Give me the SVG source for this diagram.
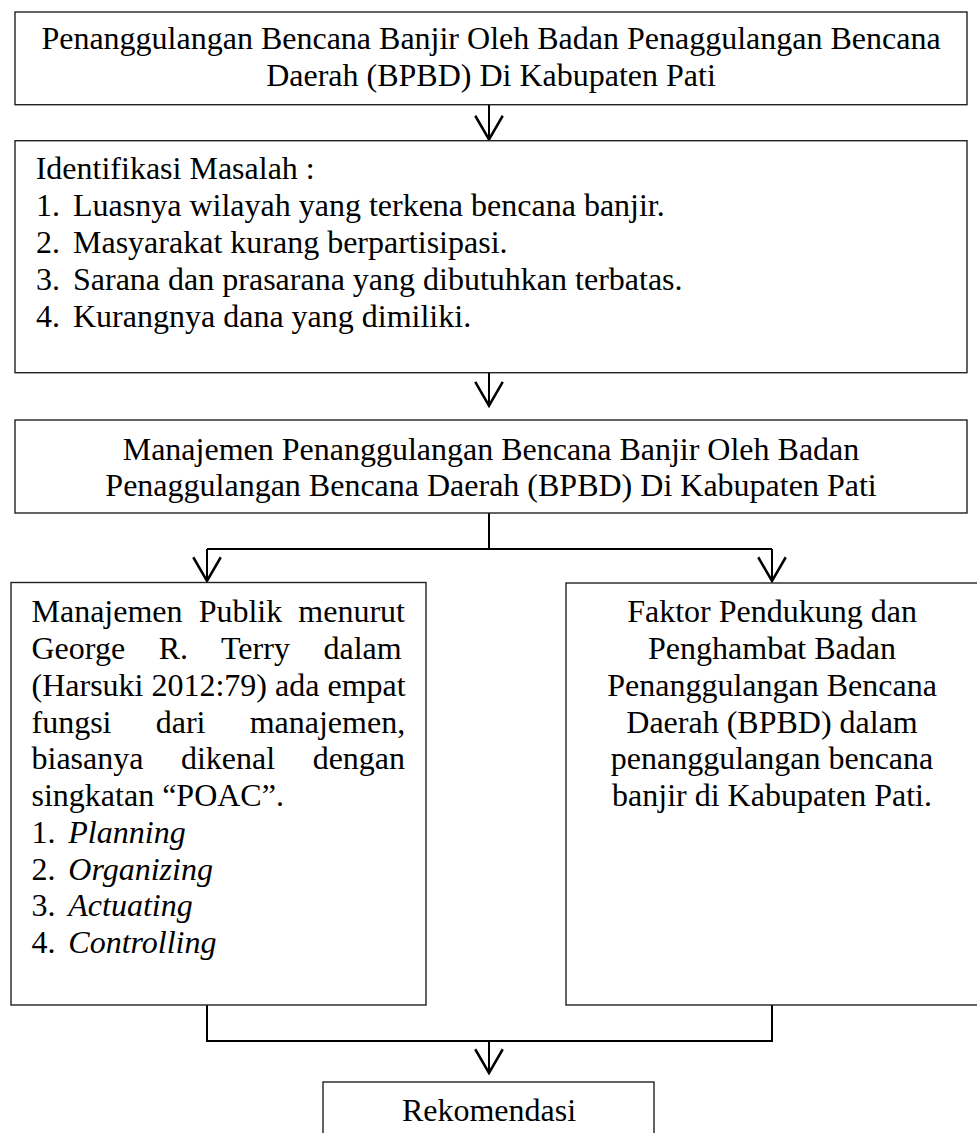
<svg xmlns="http://www.w3.org/2000/svg" width="977" height="1133" viewBox="0 0 977 1133">
<style>
  .box { fill: #fff; stroke: #222; stroke-width: 1.4; }
  .t { font-family: "Liberation Serif", "Times New Roman", serif; font-size: 32px; fill: #000; }
  .c { text-anchor: middle; }
  .i { font-style: italic; }
  .conn { fill: none; stroke: #000; stroke-width: 2; }
</style>
<defs>
  <marker id="arr" markerUnits="userSpaceOnUse" markerWidth="30" markerHeight="30" refX="0" refY="0" orient="auto" overflow="visible" viewBox="-20 -12 22 24">
    <path d="M-19,-11 L0,0 L-19,11" fill="none" stroke="#000" stroke-width="2"/>
  </marker>
</defs>
<rect width="977" height="1133" fill="#fff"/>

<g id="connectors">
  <line class="conn" x1="489" y1="105" x2="489" y2="139.5" marker-end="url(#arr)"/>
  <line class="conn" x1="489" y1="372.7" x2="489" y2="405.7" marker-end="url(#arr)"/>
  <polyline class="conn" points="489,513 489,549"/>
  <polyline class="conn" points="207,549 772,549"/>
  <line class="conn" x1="207" y1="549" x2="207" y2="581" marker-end="url(#arr)"/>
  <line class="conn" x1="772" y1="549" x2="772" y2="581" marker-end="url(#arr)"/>
  <polyline class="conn" points="207,1005 207,1041 772,1041 772,1005"/>
  <line class="conn" x1="489" y1="1041" x2="489" y2="1073" marker-end="url(#arr)"/>
</g>

<g id="node-judul">
  <rect class="box" x="15" y="12" width="952" height="92.7"/>
  <text class="t c" x="491" y="49.3">Penanggulangan Bencana Banjir Oleh Badan Penaggulangan Bencana</text>
  <text class="t c" x="491" y="86">Daerah (BPBD) Di Kabupaten Pati</text>
</g>

<g id="node-masalah">
  <rect class="box" x="15" y="140.7" width="952" height="232"/>
  <text class="t" x="35.7" y="179.3">Identifikasi Masalah :</text>
  <text class="t" x="36" y="216.2">1.</text>
  <text class="t" x="73" y="216.2">Luasnya wilayah yang terkena bencana banjir.</text>
  <text class="t" x="36" y="253">2.</text>
  <text class="t" x="73" y="253">Masyarakat kurang berpartisipasi.</text>
  <text class="t" x="36" y="289.8">3.</text>
  <text class="t" x="73" y="289.8">Sarana dan prasarana yang dibutuhkan terbatas.</text>
  <text class="t" x="36" y="326.6">4.</text>
  <text class="t" x="73" y="326.6">Kurangnya dana yang dimiliki.</text>
</g>

<g id="node-manajemen">
  <rect class="box" x="15" y="420" width="952" height="93"/>
  <text class="t c" x="491" y="459.5">Manajemen Penanggulangan Bencana Banjir Oleh Badan</text>
  <text class="t c" x="491" y="496.2">Penaggulangan Bencana Daerah (BPBD) Di Kabupaten Pati</text>
</g>

<g id="node-poac">
  <rect class="box" x="11" y="582.5" width="415" height="422.5"/>
  <text class="t" x="31.5" y="622.3" word-spacing="8.1">Manajemen Publik menurut</text>
  <text class="t" x="31.5" y="659" word-spacing="25.6">George R. Terry dalam</text>
  <text class="t" x="31.5" y="695.8">(Harsuki 2012:79) ada empat</text>
  <text class="t" x="31.5" y="732.5" word-spacing="36.2">fungsi dari manajemen,</text>
  <text class="t" x="31.5" y="769.3" word-spacing="29.5">biasanya dikenal dengan</text>
  <text class="t" x="31.5" y="806">singkatan “POAC”.</text>
  <text class="t" x="31.5" y="842.8">1.</text>
  <text class="t i" x="68.3" y="842.8">Planning</text>
  <text class="t" x="31.5" y="879.5">2.</text>
  <text class="t i" x="68.3" y="879.5">Organizing</text>
  <text class="t" x="31.5" y="916.3">3.</text>
  <text class="t i" x="68.3" y="916.3">Actuating</text>
  <text class="t" x="31.5" y="953">4.</text>
  <text class="t i" x="68.3" y="953">Controlling</text>
</g>

<g id="node-faktor">
  <rect class="box" x="566" y="583" width="420" height="422"/>
  <text class="t c" x="772" y="622.3">Faktor Pendukung dan</text>
  <text class="t c" x="772" y="659">Penghambat Badan</text>
  <text class="t c" x="772" y="695.8">Penanggulangan Bencana</text>
  <text class="t c" x="772" y="732.5">Daerah (BPBD) dalam</text>
  <text class="t c" x="772" y="769.3">penanggulangan bencana</text>
  <text class="t c" x="772" y="806">banjir di Kabupaten Pati.</text>
</g>

<g id="node-rekomendasi">
  <rect class="box" x="323" y="1082" width="331" height="60"/>
  <text class="t c" x="489" y="1121">Rekomendasi</text>
</g>
</svg>
